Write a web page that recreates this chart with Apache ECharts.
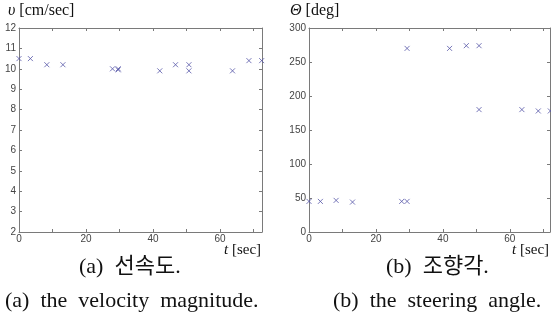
<!DOCTYPE html>
<html>
<head>
<meta charset="utf-8">
<script src="https://cdn.jsdelivr.net/npm/echarts@6/dist/echarts.min.js"></script>
<style>
  html, body { margin: 0; padding: 0; background: #fff; }
</style>
</head>
<body>
<div id="charts" style="width:551px;height:323px;"></div>
<script>
// (a) velocity magnitude
var timeA = [0, 3.4, 8.3, 13.1, 27.9, 29.6, 29.6, 42.0, 46.7, 50.7, 50.7, 63.7, 68.6, 72.4]
var speedA = [10.5, 10.5, 10.2, 10.2, 10.0, 9.95, 10.0, 9.9, 10.2, 10.2, 9.9, 9.9, 10.4, 10.4]
// (b) steering angle
var timeB = [0, 3.4, 8.1, 13.0, 27.7, 29.3, 29.3, 42.0, 47.0, 50.8, 50.8, 63.6, 68.5, 72.1]
var angleB = [45, 45, 46.5, 44, 45, 45, 270, 270, 274, 274, 180, 180, 178, 178]

var xLabels = [0, 20, 40, 60]

function pairs (xs, ys) {
  return xs.map(function (x, i) { return [x, ys[i]] })
}

var frame = '#7a7a7a'
var tickFont = { fontSize: 10, color: '#444', fontFamily: 'Liberation Sans' }
var cross = 'path://M0,0L10,10M10,0L0,10'

function xAx (grid, max, pos) {
  var bottom = pos === 'bottom'
  return {
    type: 'value', gridIndex: grid, position: pos, min: 0, max: max, interval: 10,
    axisLine: { show: true, onZero: false, lineStyle: { color: frame } },
    axisTick: { show: true, inside: true, length: 3, lineStyle: { color: frame } },
    splitLine: { show: false },
    axisLabel: Object.assign({
      show: bottom, margin: 2, showMaxLabel: false,
      formatter: function (v) { return xLabels.indexOf(v) >= 0 ? String(v) : '' }
    }, tickFont)
  }
}

function yAx (grid, min, max, step, pos) {
  var left = pos === 'left'
  return {
    type: 'value', gridIndex: grid, position: pos, min: min, max: max, interval: step,
    axisLine: { show: true, onZero: false, lineStyle: { color: frame } },
    axisTick: { show: true, inside: true, length: 3, lineStyle: { color: frame } },
    splitLine: { show: false },
    axisLabel: Object.assign({ show: left, margin: 3 }, tickFont)
  }
}

var myChart = echarts.init(document.getElementById('charts'))

var serif = 'Liberation Serif'
function label (x, y, main, rest, size) {
  return {
    type: 'text', left: x, top: y,
    style: {
      text: '{i|' + main + '}' + rest, fontSize: size, fontFamily: serif, fill: '#111',
      rich: { i: { fontStyle: 'italic', fontSize: size, fontFamily: serif } }
    }
  }
}

function caption (x, y, text, size) {
  return {
    type: 'text', left: x, top: y,
    style: { text: text, fontSize: size, fontFamily: serif + ', Noto Sans CJK KR', fill: '#111' }
  }
}

var option = {
  animation: false,
  grid: [
    { left: 19, top: 28, width: 243, height: 204 },
    { left: 309, top: 28, width: 241, height: 204 }
  ],
  xAxis: [xAx(0, 72.5, 'bottom'), xAx(0, 72.5, 'top'), xAx(1, 72, 'bottom'), xAx(1, 72, 'top')],
  yAxis: [yAx(0, 2, 12, 1, 'left'), yAx(0, 2, 12, 1, 'right'), yAx(1, 0, 300, 50, 'left'), yAx(1, 0, 300, 50, 'right')],
  series: [
    {
      type: 'scatter', xAxisIndex: 0, yAxisIndex: 0, data: pairs(timeA, speedA),
      symbol: cross, symbolSize: 5, clip: false,
      itemStyle: { color: 'transparent', borderColor: '#5656a8', borderWidth: 1 }
    },
    {
      type: 'scatter', xAxisIndex: 2, yAxisIndex: 2, data: pairs(timeB, angleB),
      symbol: cross, symbolSize: 5, clip: false,
      itemStyle: { color: 'transparent', borderColor: '#5656a8', borderWidth: 1 }
    }
  ],
  graphic: [
    label(8, 3, 'υ', ' [cm/sec]', 16),
    label(290, 3, 'Θ', ' [deg]', 16),
    label(224, 243, 't', ' [sec]', 15),
    label(512, 243, 't', ' [sec]', 15),
    caption(79, 256, '(a)  선속도.', 22),
    caption(386, 256, '(b)  조향각.', 22),
    caption(5, 290, '(a)  the  velocity  magnitude.', 22),
    caption(333, 290, '(b)  the  steering  angle.', 22)
  ]
}
myChart.setOption(option)
</script>
</body>
</html>
